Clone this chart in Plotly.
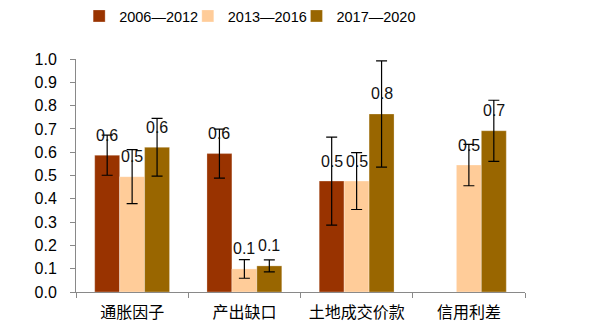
import plotly.graph_objects as go

categories = ["通胀因子", "产出缺口", "土地成交价款", "信用利差"]
series_names = ["2006—2012", "2013—2016", "2017—2020"]
values_2006_2012 = [0.587, 0.594, 0.476, None]
values_2013_2016 = [0.495, 0.099, 0.476, 0.545]
values_2017_2020 = [0.621, 0.112, 0.764, 0.692]
errors_2006_2012 = [0.086, 0.105, 0.189, None]
errors_2013_2016 = [0.116, 0.040, 0.122, 0.089]
errors_2017_2020 = [0.124, 0.026, 0.228, 0.131]
colors = ["#993300", "#FFCC99", "#996600"]
y_ticks = [0.0, 0.1, 0.2, 0.3, 0.4, 0.5, 0.6, 0.7, 0.8, 0.9, 1.0]

all_values = [values_2006_2012, values_2013_2016, values_2017_2020]
all_errors = [errors_2006_2012, errors_2013_2016, errors_2017_2020]

FONT = "Arial, 'Liberation Sans', 'Noto Sans CJK SC', sans-serif"
W, H = 590, 322
ML, MR, MT, MB = 76, 65, 59, 30
BARGAP = 1 / 3
legend_ids = ["legend", "legend2", "legend3"]
legend_x = [0.007, 0.249, 0.491]

fig = go.Figure()
for name, vals, errs, col, lg in zip(series_names, all_values, all_errors, colors, legend_ids):
    fig.add_trace(go.Bar(
        name=name, x=categories, y=vals, legend=lg,
        marker=dict(color=col, line=dict(width=0.8, color="rgba(255,255,255,0.35)")),
        error_y=dict(type="data", array=[e if e is not None else 0 for e in errs],
                     visible=True, color="#000000", thickness=1.2, width=5.5),
    ))

# value labels above bars
plot_w = W - ML - MR
bar_px = plot_w / len(categories) * (1 - BARGAP) / len(series_names)
for i, vals in enumerate(all_values):
    for cat, v in zip(categories, vals):
        if v is None:
            continue
        fig.add_annotation(x=cat, y=v, text=f"{v:.1f}", showarrow=False,
                           xshift=(i - 1) * bar_px, yshift=20,
                           font=dict(family=FONT, size=16, color="#111111"))

legend_common = dict(orientation="h", xanchor="left", y=1.0, yanchor="top",
                     yref="container", font=dict(size=14.5), itemwidth=30,
                     bgcolor="rgba(0,0,0,0)", traceorder="normal")
fig.update_layout(
    width=W, height=H,
    margin=dict(l=ML, r=MR, t=MT, b=MB),
    paper_bgcolor="white", plot_bgcolor="white",
    barmode="group", bargap=BARGAP, bargroupgap=0,
    font=dict(family=FONT, size=16, color="#000000"),
    showlegend=True,
)
for lg, lx in zip(legend_ids, legend_x):
    fig.update_layout({lg: dict(x=lx, **legend_common)})

fig.update_yaxes(range=[0, 1.0], tickvals=y_ticks, tickformat=".1f",
                 showgrid=False, zeroline=False, showline=True, linecolor="#898989",
                 linewidth=1, ticks="outside", ticklen=5, tickcolor="#898989",
                 ticklabelstandoff=10, tickfont=dict(size=16), automargin=False)
fig.update_xaxes(showgrid=False, showline=True, linecolor="#898989", linewidth=1,
                 ticks="outside", ticklen=5, tickcolor="#898989", tickson="boundaries",
                 ticklabelstandoff=6, tickfont=dict(size=16), automargin=False)

fig.write_html("out.html")
